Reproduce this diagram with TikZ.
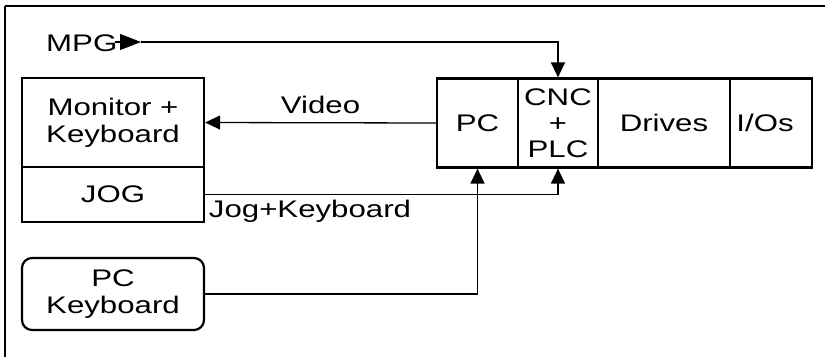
\documentclass[tikz,border=0pt]{standalone}
\usepackage{fontspec}
\setmainfont{Liberation Sans}[FakeStretch=1.3]
\usetikzlibrary{arrows.meta}
\begin{document}
\begin{tikzpicture}[x=1pt,y=-1pt,
  txt/.style={font=\fontsize{24}{27}\selectfont, align=center, inner sep=0pt},
  blk/.style={txt, draw, line width=2.2pt, minimum height=89pt},
  conn/.style={line width=1.3pt, -{Triangle[length=15pt,width=14pt]}}]
\useasboundingbox (0,0) rectangle (825,357);
% frame
\draw[line width=2.8pt] (5,6) -- (825,6);
\draw[line width=1.4pt] (5,6) -- (5,357);
% left boxes
\node[blk, minimum width=182pt, minimum height=89pt] (mon) at (113,122.5) {Monitor +\\Keyboard};
\node[blk, minimum width=182pt, minimum height=55pt] (jog) at (113,194.5) {JOG};
\node[blk, minimum width=182pt, minimum height=72pt, rounded corners=10pt] (pckb) at (113,294) {PC\\Keyboard};
% right block
\node[blk, minimum width=81pt] (pc) at (477.5,123) {PC};
\node[blk, minimum width=80pt, font=\fontsize{24}{26}\selectfont] (cnc) at (558,123) {CNC\\+\\PLC};
\node[blk, minimum width=132pt] (drv) at (664,123) {Drives};
\node[blk, minimum width=82pt] (ios) at (771,123) {I/Os\hspace*{12pt}};
% MPG
\node[txt, anchor=west] (mpg) at (46,43) {MPG};
\coordinate (mpgs) at (115,42);
\coordinate (mpgt) at (141,42);
\draw[line width=1.3pt, -{Triangle[length=21pt,width=16pt]}] (mpgs) -- (mpgt);
\draw[conn] (mpgt) -| (cnc.north);
% Video
\draw[conn] (pc.west) -- (mon.east) node[txt, midway, above=8pt] (vid) {Video};
% Jog
\draw[conn] (jog.east) -| (cnc.south);
\node[txt] (jlab) at (310,211) {Jog+Keyboard};
% PC keyboard
\draw[conn] (pckb.east) -| (pc.south);
\end{tikzpicture}
\end{document}
